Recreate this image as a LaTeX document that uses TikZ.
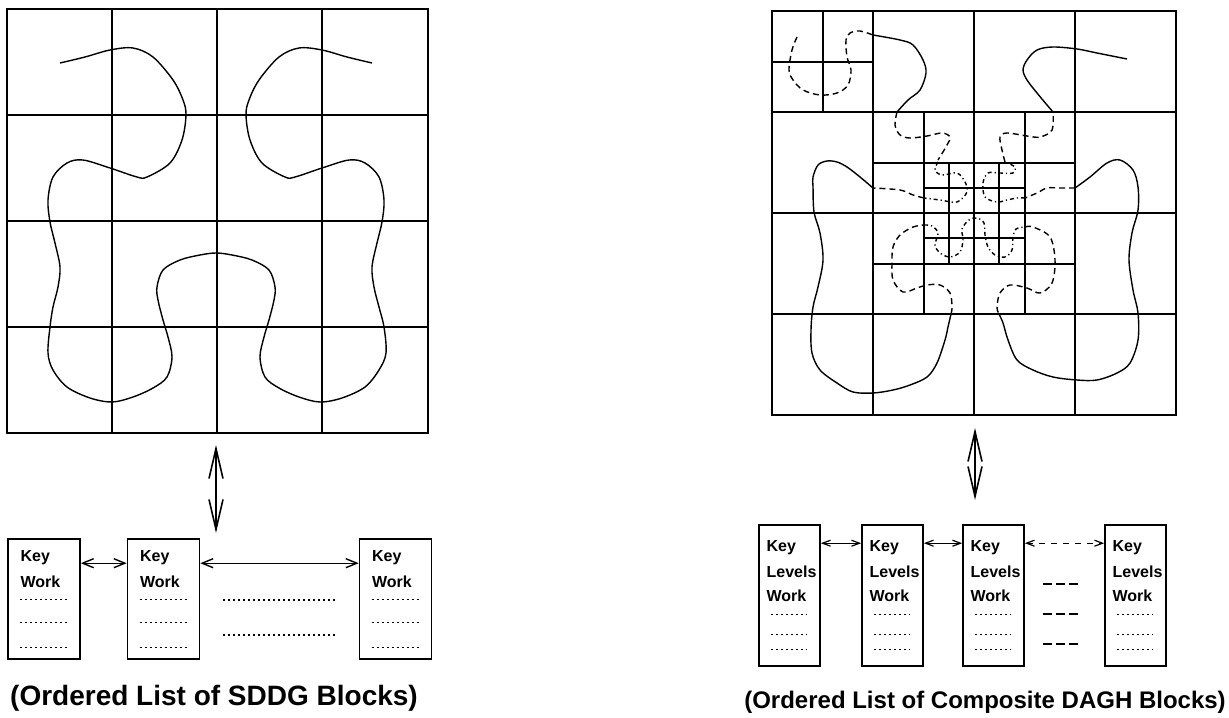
\documentclass[tikz,border=0pt]{standalone}
\usepackage{fontspec}
\setmainfont{Liberation Sans}
\usetikzlibrary{arrows.meta,calc}

\begin{document}
\begin{tikzpicture}[x=0.5pt,y=-0.5pt,
  gridln/.style={line width=0.9pt},
  crv/.style={line width=0.7pt, smooth, tension=0.55},
  lvla/.style={crv, dash pattern=on 3pt off 2pt},
  lvlb/.style={crv, dash pattern=on 2pt off 1.5pt on 0.6pt off 1.5pt},
  blk/.style={draw, line width=0.8pt, minimum width=36pt, minimum height=60pt, inner sep=0pt},
  cblk/.style={draw, line width=0.8pt, minimum width=30.5pt, minimum height=70.5pt, inner sep=0pt},
  txt/.style={font=\fontsize{8}{9}\selectfont\bfseries, inner sep=0pt, anchor=west},
  dots/.style={line width=0.6pt, dash pattern=on 1pt off 1.5pt},
  dbl/.style={line width=0.8pt, >={Straight Barb[length=15pt,width=7pt]}, <->},
  lnk/.style={line width=0.7pt, >={Straight Barb[length=5.5pt,width=4.5pt]}, <->},
  slnk/.style={line width=0.6pt, >={Straight Barb[length=4pt,width=3pt]}, <->},
  capt/.style={inner sep=0pt}
]
\useasboundingbox (0,0) rectangle (1229,717);

% uniform SDDG grid
\draw[gridln] (7,9) rectangle (428,433);
\foreach \x in {112,217,322} \draw[gridln] (\x,9) -- (\x,433);
\foreach \y in {115,221,327} \draw[gridln] (7,\y) -- (428,\y);

\draw[crv] plot coordinates {(60,63) (85,57) (110,50) (133,48) (153,57) (173,80)
  (183,100) (186,115) (182,140) (170,163) (147,177) (137,177) (110,168) (83,160)
  (67,163) (53,177) (48,200) (50,222) (55,243) (60,267) (58,287) (53,307) (50,327)
  (48,353) (53,370) (67,387) (90,398) (112,402) (133,397) (153,388) (167,377)
  (172,357) (168,337) (163,320) (158,300) (157,287) (163,270) (180,260) (200,255)
  (216,253) (232,255) (252,260) (269,270) (275,287) (274,300) (269,320) (264,337)
  (260,357) (265,377) (279,388) (299,397) (320,402) (342,398) (365,387) (379,370)
  (386,353) (384,327) (379,307) (374,287) (372,267) (377,243) (382,222) (384,200)
  (379,177) (365,163) (349,160) (322,168) (295,177) (285,177) (262,163) (250,140)
  (246,115) (249,100) (259,80) (279,57) (299,48) (322,50) (347,57) (372,63)};

% composite DAGH grid
\draw[gridln] (772,11) rectangle (1176,415);
\foreach \x in {873,974,1075} \draw[gridln] (\x,11) -- (\x,415);
\foreach \y in {112,213,314} \draw[gridln] (772,\y) -- (1176,\y);
\draw[gridln] (823,11) -- (823,112);
\draw[gridln] (772,62) -- (873,62);
\foreach \x in {924,1025} \draw[gridln] (\x,112) -- (\x,314);
\foreach \y in {163,264} \draw[gridln] (873,\y) -- (1075,\y);
\foreach \x in {949,999} \draw[gridln] (\x,163) -- (\x,264);
\foreach \y in {188,238} \draw[gridln] (924,\y) -- (1025,\y);

\draw[lvla] plot coordinates {(797,37) (792,50) (789,70) (793,80) (803,90) (820,95)
  (837,93) (848,85) (851,70) (847,57) (846,40) (850,33) (860,31) (873,35)};
\draw[crv] plot coordinates {(873,35) (900,40) (913,45) (923,60) (926,73) (920,90)
  (908,100) (897,112)};
\draw[lvla] plot coordinates {(897,112) (895,125) (900,135) (910,138) (927,136)
  (942,133) (950,137) (947,145) (938,160)};
\draw[lvlb] plot coordinates {(938,162) (935,170) (942,175) (957,173) (965,182)
  (967,192) (957,202) (940,200) (924,198)};
\draw[lvla] plot coordinates {(924,198) (913,195) (900,190) (873,188)};
\draw[crv] plot coordinates {(873,188) (860,177) (847,167) (837,162) (827,161)
  (818,165) (813,177) (813,187) (814,212) (820,233) (823,260) (818,287) (813,307)
  (811,330) (812,353) (820,370) (837,383) (853,392) (873,393) (893,390) (910,385)
  (927,377) (937,363) (945,340) (948,327) (951,314)};
\draw[lvla] plot coordinates {(951,314) (952,307) (950,293) (940,285) (927,285)
  (917,288) (903,292) (893,280) (892,263) (893,247) (900,235) (913,227) (924,225)};
\draw[lvlb] plot coordinates {(924,225) (932,226) (938,233) (935,245) (940,253)
  (950,257) (960,252) (963,240) (962,229) (969,220) (977,218) (984,223) (985,235)
  (988,247) (995,255) (1005,257) (1012,250) (1013,237) (1016,229) (1025,227)};
\draw[lvla] plot coordinates {(1025,227) (1033,227) (1050,237) (1055,260)
  (1052,283) (1040,293) (1027,288) (1010,285) (1000,293) (997,307) (999,314)};
\draw[crv] plot coordinates {(999,314) (1003,323) (1008,340) (1017,360) (1033,370)
  (1053,377) (1077,380) (1097,380) (1117,373) (1130,363) (1138,340) (1138,313)
  (1133,290) (1129,260) (1132,233) (1138,210) (1138,187) (1133,170) (1120,160)
  (1107,163) (1090,177) (1075,188)};
\draw[lvla] plot coordinates {(1075,188) (1060,188) (1047,188) (1037,193) (1025,198)};
\draw[lvlb] plot coordinates {(1025,198) (1017,198) (1007,200) (997,202) (985,197)
  (983,183) (988,173) (1000,173) (1013,173) (1015,167) (1005,162)};
\draw[lvla] plot coordinates {(1005,162) (1002,150) (1000,137) (1007,133) (1027,136)
  (1040,137) (1052,130) (1053,112)};
\draw[crv] plot coordinates {(1053,112) (1047,105) (1037,93) (1027,80) (1023,70)
  (1027,60) (1037,50) (1053,47) (1077,49) (1097,53) (1127,59)};

% SDDG block list
\coordinate (la) at (216,445);
\coordinate (lb) at (216,533);
\draw[dbl] (la) -- (lb);

\node[blk] (lb1) at (44,599) {};
\node[blk] (lb2) at (163.5,599) {};
\node[blk] (lb3) at (395.5,599) {};
\foreach \b in {lb1,lb2,lb3} {
  \node[txt] at ($(\b.north west)+(13,19)$) {Key};
  \node[txt] at ($(\b.north west)+(13,44)$) {Work};
  \foreach \d in {61,84,109}
    \draw[dots] ($(\b.north west)+(13,\d)$) -- +(49,0);
}
\draw[lnk] ([yshift=-12.5pt]lb1.north east) -- ([yshift=-12.5pt]lb2.north west);
\draw[lnk] ([yshift=-12.5pt]lb2.north east) -- ([yshift=-12.5pt]lb3.north west);
\draw[dots] (223,600) -- (337,600);
\draw[dots] (223,635) -- (337,635);

\node[capt, font=\fontsize{14}{16}\selectfont\bfseries] (lcap) at (214,698)
  {(Ordered List of SDDG Blocks)};

% composite DAGH block list
\coordinate (ra) at (975,428);
\coordinate (rb) at (975,500);
\draw[dbl] (ra) -- (rb);

\node[cblk] (rb1) at (789.5,595.5) {};
\node[cblk] (rb2) at (892.5,595.5) {};
\node[cblk] (rb3) at (993.5,595.5) {};
\node[cblk] (rb4) at (1135.5,595.5) {};
\foreach \b in {rb1,rb2,rb3,rb4} {
  \node[txt] at ($(\b.north west)+(8,23)$) {Key};
  \node[txt] at ($(\b.north west)+(8,48)$) {Levels};
  \node[txt] at ($(\b.north west)+(8,72)$) {Work};
  \foreach \d in {90,110,125}
    \draw[dots] ($(\b.north west)+(13,\d)$) -- +(36,0);
}
\draw[slnk] ([yshift=-9.5pt]rb1.north east) -- ([yshift=-9.5pt]rb2.north west);
\draw[slnk] ([yshift=-9.5pt]rb2.north east) -- ([yshift=-9.5pt]rb3.north west);
\draw[slnk, dashed] ([yshift=-9.5pt]rb3.north east) -- ([yshift=-9.5pt]rb4.north west);
\foreach \y in {584,614,644}
  \draw[line width=0.9pt, dash pattern=on 4.5pt off 2pt] (1043,\y) -- (1081,\y);

\node[capt, font=\fontsize{12}{14}\selectfont\bfseries] (rcap) at (985,702)
  {(Ordered List of Composite DAGH Blocks)};
\end{tikzpicture}
\end{document}
